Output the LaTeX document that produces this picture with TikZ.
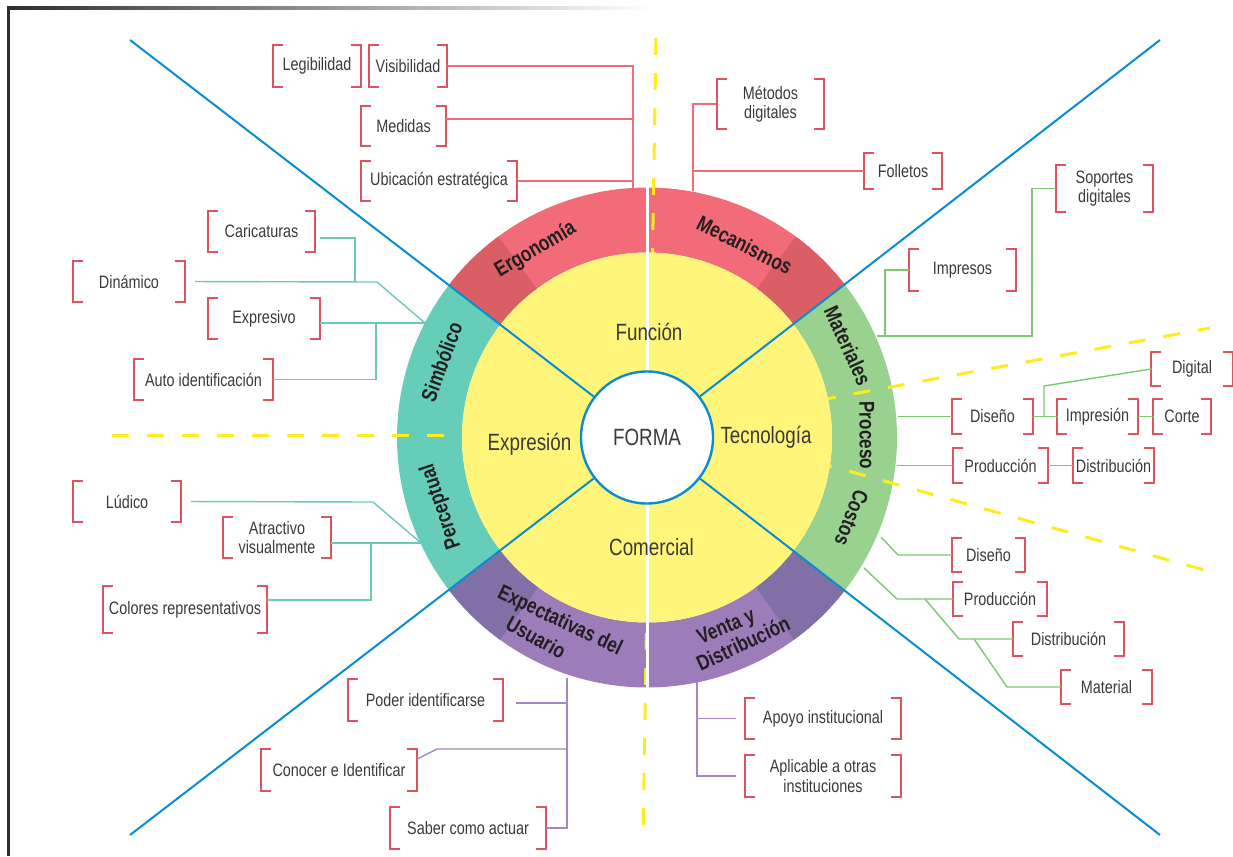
\documentclass[tikz,border=0pt]{standalone}
\usepackage{fontspec}
\setmainfont{Liberation Sans}[FakeStretch=0.8]
\usetikzlibrary{calc}

\definecolor{ringred}{HTML}{F26B78}
\definecolor{ringreddk}{HTML}{D95F64}
\definecolor{ringteal}{HTML}{66CDB9}
\definecolor{ringgreen}{HTML}{99D18F}
\definecolor{ringpurple}{HTML}{9D7DB9}
\definecolor{ringpurpledk}{HTML}{8070A5}
\definecolor{diskyellow}{HTML}{FFF57A}
\definecolor{dashyellow}{HTML}{FFEC1F}
\definecolor{axisblue}{HTML}{0A8CD2}
\definecolor{bracketred}{HTML}{DA5560}
\definecolor{leafgray}{HTML}{3A3A3A}
\definecolor{ringtext}{HTML}{231F20}
\definecolor{linered}{HTML}{EE6E78}
\definecolor{lineteal}{HTML}{6CC9B8}
\definecolor{linegreen}{HTML}{7DC774}
\definecolor{linepurple}{HTML}{A386C2}
\definecolor{framegray}{HTML}{2E2E2E}

\newcommand\leaffont{\fontsize{18}{19.5}\selectfont}
\newcommand\corefont{\fontsize{23.5}{26}\selectfont}
\newcommand\ringfont{\fontsize{21.5}{22}\selectfont\bfseries}

% annular sector of the wheel: colour, start angle, end angle
\newcommand\ringpart[3]{\fill[#1] (#2:250) arc[start angle=#2, end angle=#3, radius=250]
  -- (#3:185) arc[start angle=#3, end angle=#2, radius=185] -- cycle;}
% the two red brackets round a leaf node
\newcommand\leafbrackets[1]{%
  \draw[brk] ([xshift=10pt]#1.north west) -| (#1.south west) -- ++(10,0);
  \draw[brk] ([xshift=-10pt]#1.north east) -| (#1.south east) -- ++(-10,0);}

\begin{document}
\begin{tikzpicture}[x=1pt, y=-1pt,
    leaf/.style={font=\leaffont, text=leafgray, align=center, inner sep=0pt, minimum height=41pt},
    core/.style={font=\corefont, text=leafgray, inner sep=0pt},
    ringlbl/.style={font=\ringfont, text=ringtext, inner sep=0pt},
    brk/.style={draw=bracketred, line width=1.8pt},
    redcon/.style={draw=linered, line width=1.4pt},
    tealcon/.style={draw=lineteal, line width=1.4pt},
    greencon/.style={draw=linegreen, line width=1.4pt},
    purplecon/.style={draw=linepurple, line width=1.4pt},
    dashline/.style={draw=dashyellow, line width=3pt, dash pattern=on 17pt off 18pt},
    axis/.style={draw=axisblue, line width=2pt},
    whiteline/.style={draw=white, line width=3pt},
    ]
\useasboundingbox (0,0) rectangle (1233,856);

% marco
\fill[framegray] (7,7) rectangle (10,856);
\shade[left color=framegray, right color=white] (7,7) rectangle (650,10);

% anillo
\begin{scope}[shift={(647,437.5)}, y=1pt]
  \ringpart{ringred}{37.6}{142.4}
  \ringpart{ringreddk}{37.6}{53.5}
  \ringpart{ringreddk}{126.5}{142.4}
  \ringpart{ringteal}{142.4}{217.6}
  \ringpart{ringpurple}{217.6}{322.4}
  \ringpart{ringpurpledk}{217.6}{234}
  \ringpart{ringpurpledk}{306}{322.4}
  \ringpart{ringgreen}{-37.6}{37.6}
\end{scope}

% lineas amarillas
\coordinate (d-top) at (656,38);
\coordinate (d-bot) at (643,840);
\coordinate (d-left) at (112,435);
\coordinate (d-mid) at (647,435);
\coordinate (d-c1) at (647,432);
\coordinate (d-ru) at (1210,328);
\coordinate (d-c2) at (647,415);
\coordinate (d-rl) at (1208,571);
\draw[dashline] (d-top) -- (d-bot);
\draw[dashline] (d-left) -- (d-mid);
\draw[dashline] (d-c1) -- (d-ru);
\draw[dashline] (d-c2) -- (d-rl);

% disco y centro
\begin{scope}[shift={(647,437.5)}, y=1pt]
  \fill[diskyellow] (0,0) circle[radius=185];
\end{scope}
\node[circle, draw=axisblue, line width=2.4pt, fill=white, minimum size=132pt,
      inner sep=0pt, font=\corefont, text=leafgray] (forma) at (647,437.5) {FORMA};

\coordinate (c-tl) at (130,40);
\coordinate (c-tr) at (1160,40);
\coordinate (c-bl) at (130,835);
\coordinate (c-br) at (1160,835);
\foreach \c in {c-tl,c-tr,c-bl,c-br}
  \draw[axis] (\c) -- (forma);

\coordinate (w-top) at (647,187);
\coordinate (w-bot) at (647,688);
\draw[whiteline] (w-top) -- (forma);
\draw[whiteline] (forma) -- (w-bot);

% textos del anillo
\begin{scope}[shift={(647,437.5)}, y=1pt]
  \node[ringlbl, rotate=30.7] (l-ergo) at (120.7:218) {Ergonomía};
  \node[ringlbl, rotate=-26.9] (l-meca) at (63.1:216) {Mecanismos};
  \node[ringlbl, rotate=-65.4] (l-mate) at (24.6:221) {Materiales};
  \node[ringlbl, rotate=-89.4] (l-proc) at (0.6:220) {Proceso};
  \node[ringlbl, rotate=-111.5] (l-cost) at (-21.5:220) {Costos};
  \node[ringlbl, rotate=69.8] (l-simb) at (159.8:219) {Simbólico};
  \node[ringlbl, rotate=108.6] (l-perc) at (198.6:217) {Perceptual};
  \node[ringlbl, rotate=-25.4] (l-expe) at (244.6:203.5) {Expectativas del};
  \node[ringlbl, rotate=-29] (l-usua) at (241:228.5) {Usuario};
  \node[ringlbl, rotate=22.7] (l-vent) at (292.7:206.5) {Venta y};
  \node[ringlbl, rotate=25] (l-dist) at (295:227) {Distribución};
\end{scope}

% textos del disco
\node[core] (funcion) at (649,332) {Función};
\node[core] (expres) at (529.5,444) {Expresión};
\node[core] (tecno) at (766,437) {Tecnología};
\node[core] (comer) at (651.5,547) {Comercial};

% hojas
\node[leaf, minimum width=88pt] (legib) at (317,66) {Legibilidad};
\node[leaf, minimum width=78pt] (visib) at (408,66) {Visibilidad};
\node[leaf, minimum width=85pt, minimum height=40pt] (medid) at (403.5,126) {Medidas};
\node[leaf, minimum width=155pt, minimum height=40pt] (ubica) at (439,181) {Ubicación estratégica};
\node[leaf, minimum width=107pt, minimum height=49pt] (metod) at (770.5,104) {Métodos\\digitales};
\node[leaf, minimum width=78pt, minimum height=36pt] (folle) at (903,171) {Folletos};
\node[leaf, minimum width=107pt, minimum height=42pt] (impre) at (962.5,270) {Impresos};
\node[leaf, minimum width=97pt, minimum height=47pt] (sopor) at (1104.5,188.5) {Soportes\\digitales};
\node[leaf, minimum width=81pt, minimum height=35pt] (pdise) at (992.5,416.5) {Diseño};
\node[leaf, minimum width=81pt, minimum height=35pt] (pimpr) at (1097.5,416.5) {Impresión};
\node[leaf, minimum width=58pt, minimum height=35pt] (pcort) at (1182,416.5) {Corte};
\node[leaf, minimum width=81pt, minimum height=34pt] (pdigi) at (1192,369) {Digital};
\node[leaf, minimum width=95pt, minimum height=35pt] (pprod) at (1000.5,465.5) {Producción};
\node[leaf, minimum width=81pt, minimum height=35pt] (pdist) at (1113.5,465.5) {Distribución};
\node[leaf, minimum width=73pt, minimum height=34pt] (cdise) at (988.5,555) {Diseño};
\node[leaf, minimum width=94pt, minimum height=34pt] (cprod) at (1000,599) {Producción};
\node[leaf, minimum width=111pt, minimum height=34pt] (cdist) at (1068.5,639) {Distribución};
\node[leaf, minimum width=91pt, minimum height=34pt] (cmate) at (1106.5,687) {Material};
\node[leaf, minimum width=156pt] (apoyo) at (823,718.5) {Apoyo institucional};
\node[leaf, minimum width=156pt, minimum height=42pt] (aplic) at (823,776) {Aplicable a otras\\instituciones};
\node[leaf, minimum width=155pt] (poder) at (425.5,700) {Poder identificarse};
\node[leaf, minimum width=156pt, minimum height=42pt] (conoc) at (339,770) {Conocer e Identificar};
\node[leaf, minimum width=156pt, minimum height=42pt] (saber) at (468,828) {Saber como actuar};
\node[leaf, minimum width=107pt] (caric) at (261.5,231.5) {Caricaturas};
\node[leaf, minimum width=112pt] (dinam) at (129,281.5) {Dinámico};
\node[leaf, minimum width=112pt] (expre) at (264,318.5) {Expresivo};
\node[leaf, minimum width=139pt] (autoi) at (203.5,379.5) {Auto identificación};
\node[leaf, minimum width=108pt] (ludic) at (127,501.5) {Lúdico};
\node[leaf, minimum width=108pt] (atrac) at (277,537.5) {Atractivo\\visualmente};
\node[leaf, minimum width=164pt, minimum height=47pt] (color) at (185,609.5) {Colores representativos};

\foreach \n in {legib,visib,medid,ubica,metod,folle,impre,sopor,pdise,pimpr,pcort,pdigi,
    pprod,pdist,cdise,cprod,cdist,cmate,apoyo,aplic,poder,conoc,saber,caric,dinam,expre,
    autoi,ludic,atrac,color}
  {\leafbrackets{\n}}

% Ergonomia
\coordinate (ergo) at (633,188);
\draw[redcon] (visib.east) -| (ergo);
\draw[redcon] ([yshift=7pt]medid.east) -| (ergo);
\draw[redcon] (ubica.east) -| (ergo);
% Mecanismos
\coordinate (meca) at (693,191);
\draw[redcon] (metod.west) -| (meca);
\draw[redcon] (folle.west) -| (meca);
% Materiales
\coordinate (mate) at (877,336);
\coordinate (mate-j) at (1032,336);
\coordinate (mate-i) at (885,336);
\draw[greencon] (sopor.west) -| (mate-j) -- (mate);
\draw[greencon] (impre.west) -| (mate-i);
% Proceso
\coordinate (proc-a) at (898,416.5);
\coordinate (proc-b) at (897,465.5);
\coordinate (proc-d) at (1044,386);
\draw[greencon] (proc-a) -- (pdise.west);
\draw[greencon] (pdise.east) -- (pimpr.west);
\draw[greencon] (pdise.east -| proc-d) -- (proc-d) -- (pdigi.west);
\draw[greencon] (pimpr.east) -- (pcort.west);
\draw[greencon] (proc-b) -- (pprod.west);
\draw[greencon] (pprod.east) -- (pdist.west);
% Costos
\coordinate (cost-a) at (881,537);
\coordinate (cost-b) at (864,568);
\coordinate (cost-c) at (925,599);
\coordinate (cost-d) at (974,639);
\draw[greencon] (cost-a) -- ++(17,18) -- (cdise.west);
\draw[greencon] (cost-b) -- ++(33,31) -- (cprod.west);
\draw[greencon] (cost-c) -- ++(34,40) -- (cdist.west);
\draw[greencon] (cost-d) -- ++(33,48) -- (cmate.west);
% Venta y Distribucion
\coordinate (vent) at (697,682);
\draw[purplecon, shorten >=9pt] (vent) |- (aplic.west);
\draw[purplecon, shorten >=9pt] (vent |- apoyo.west) -- (apoyo.west);
% Expectativas del Usuario
\coordinate (expe) at (567,678);
\coordinate (conoc-j) at (437,749);
\draw[purplecon] (expe) |- (saber.east);
\draw[purplecon, shorten <=13pt] ([yshift=-3pt]poder.east) -| (expe);
\draw[purplecon] (expe |- conoc-j) -- (conoc-j) -- ([yshift=11pt]conoc.east);
% Simbolico
\coordinate (simb) at (425,323);
\coordinate (simb-k) at (377,282);
\coordinate (cari-j) at (355,282);
\coordinate (auto-j) at (376,323);
\draw[tealcon, shorten <=10pt] (dinam.east) -- (simb-k) -- (simb);
\draw[tealcon] (expre.east |- simb) -- (simb);
\draw[tealcon, shorten <=5pt] ([yshift=-6.5pt]caric.east) -| (cari-j);
\draw[tealcon] (autoi.east) -| (auto-j);
% Perceptual
\coordinate (perc) at (421,543);
\coordinate (perc-k) at (373,502);
\coordinate (colo-j) at (371,543);
\draw[tealcon, shorten <=10pt] (ludic.east) -- (perc-k) -- (perc);
\draw[tealcon] (atrac.east |- perc) -- (perc);
\draw[tealcon] ([yshift=9.5pt]color.east) -| (colo-j);
\end{tikzpicture}
\end{document}
